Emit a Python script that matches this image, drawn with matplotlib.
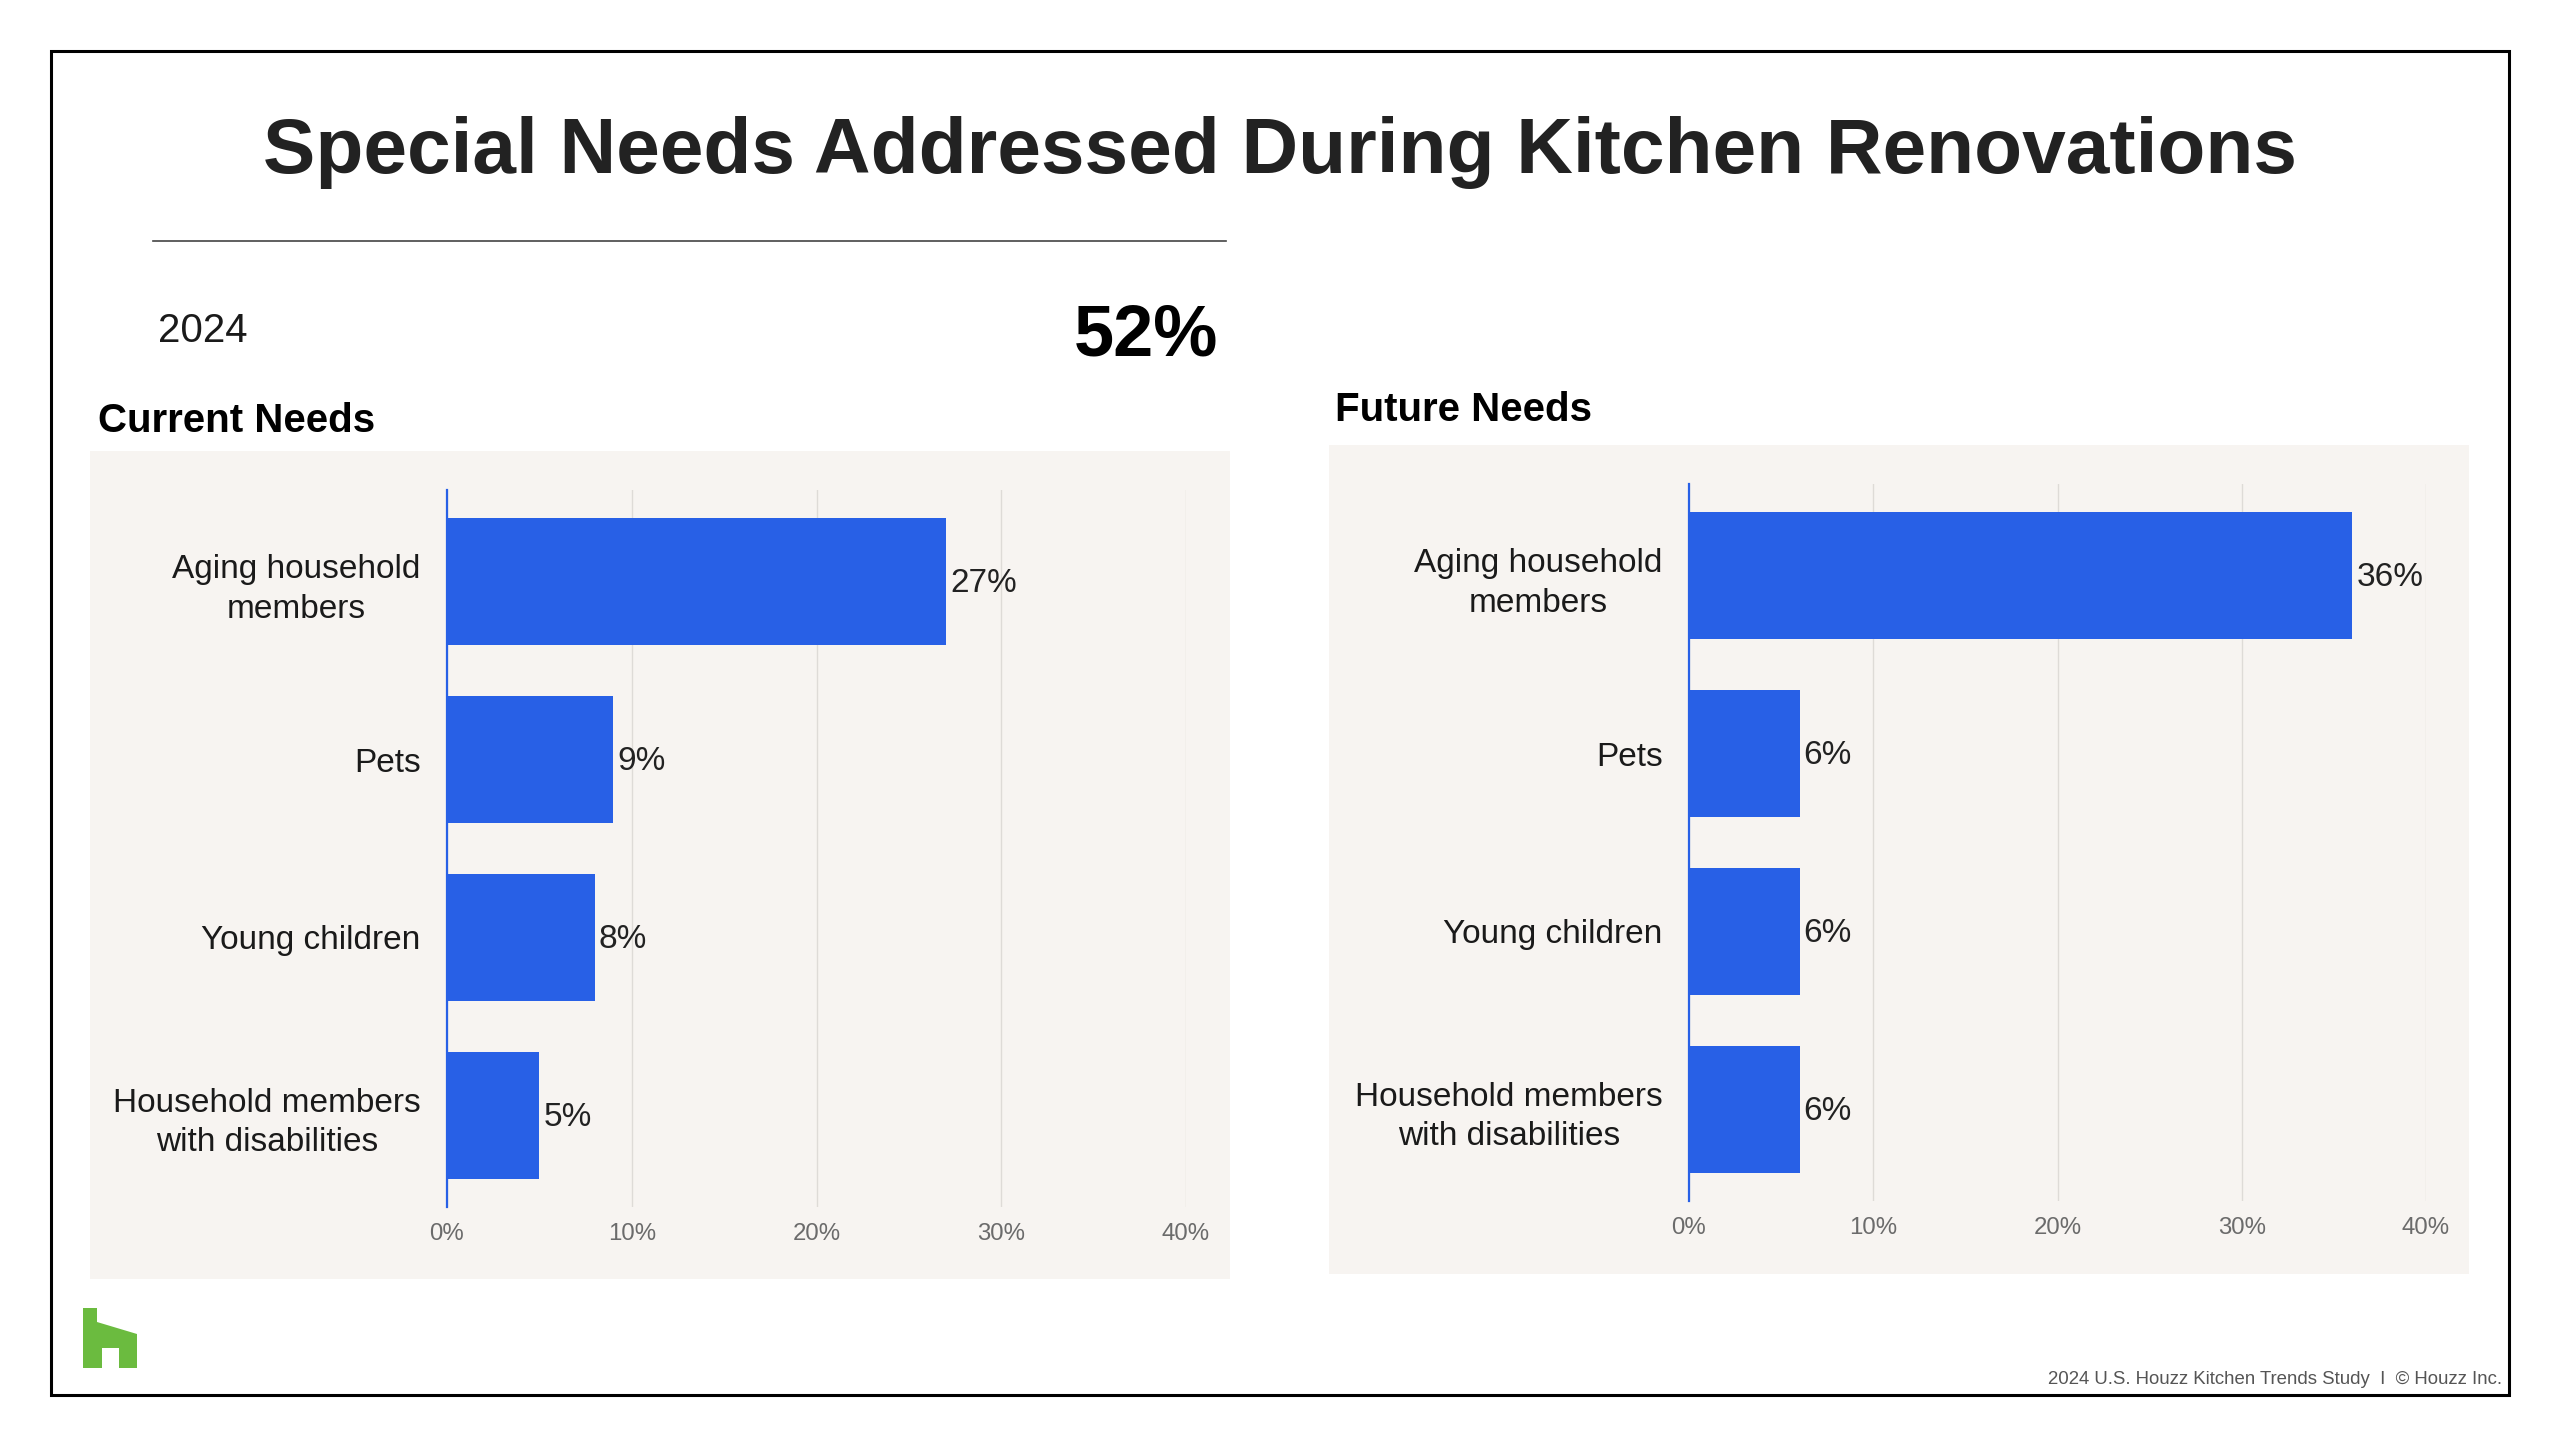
import matplotlib
matplotlib.use('Agg')
import matplotlib.pyplot as plt
from matplotlib.patches import Rectangle, Polygon
from matplotlib.lines import Line2D
import numpy as np

# ---------------- data ----------------
categories = ["Aging household\nmembers", "Pets", "Young children",
              "Household members\nwith disabilities"]
current_values = [27, 9, 8, 5]
future_values = [36, 6, 6, 6]
x_ticks = [0, 10, 20, 30, 40]
x_tick_labels = ["0%", "10%", "20%", "30%", "40%"]

title = "Special Needs Addressed During Kitchen Renovations"
year_label = "2024"
headline_value = "52%"
left_title = "Current Needs"
right_title = "Future Needs"
footer = "2024 U.S. Houzz Kitchen Trends Study  I  \u00a9 Houzz Inc."

# ---------------- style ----------------
plt.rcParams['font.family'] = ['Liberation Sans', 'DejaVu Sans']
BLUE = '#2860E6'
PANEL = '#F7F4F1'
GRID = '#DEDBD7'
TEXT = '#1A1A1A'

W, H = 2560, 1446
fig = plt.figure(figsize=(W / 100, H / 100), dpi=100)
fig.patch.set_facecolor('white')


def fx(px):
    return px / W


def fy(py):
    return 1 - py / H


# outer frame
fig.patches.append(Rectangle((fx(51), fy(1395)), fx(2509) - fx(51), fy(51) - fy(1395),
                             transform=fig.transFigure, fill=False,
                             edgecolor='black', lw=2.2, zorder=-1))
# panel backgrounds
fig.patches.append(Rectangle((fx(90), fy(1279)), fx(1230) - fx(90), fy(451) - fy(1279),
                             transform=fig.transFigure, facecolor=PANEL,
                             edgecolor='none', zorder=-1))
fig.patches.append(Rectangle((fx(1329), fy(1274)), fx(2469) - fx(1329), fy(445) - fy(1274),
                             transform=fig.transFigure, facecolor=PANEL,
                             edgecolor='none', zorder=-1))

# title & header texts
fig.text(0.5, fy(173), title, ha='center', va='baseline', fontsize=56.5,
         fontweight='bold', color='#222222')
fig.add_artist(Line2D([fx(153), fx(1226)], [fy(241), fy(241)],
                      transform=fig.transFigure, color='#444444', lw=1.2))
fig.text(fx(158), fy(342), year_label, ha='left', va='baseline', fontsize=29, color=TEXT)
fig.text(fx(1218), fy(355), headline_value, ha='right', va='baseline', fontsize=52,
         fontweight='bold', color='black')
fig.text(fx(98), fy(432), left_title, ha='left', va='baseline', fontsize=29,
         fontweight='bold', color='black')
fig.text(fx(1335), fy(421), right_title, ha='left', va='baseline', fontsize=29,
         fontweight='bold', color='black')


def draw(ax, values):
    y = np.arange(len(categories))
    ax.set_zorder(3)
    ax.barh(y, values, height=0.713, color=BLUE, zorder=3)
    ax.set_xlim(0, 40)
    ax.set_ylim(len(categories) - 0.485, -0.515)
    ax.set_facecolor('none')
    for i, v in enumerate(values):
        ax.annotate(f"{v}%", (v, i), xytext=(3, -1.5), textcoords='offset points',
                    ha='left', va='center', fontsize=24, color='#222222', zorder=4)
    ax.set_yticks(y, categories)
    for lab in ax.get_yticklabels():
        lab.set_multialignment('center')
        lab.set_linespacing(1.35)
    ax.tick_params(axis='y', length=0, pad=19, labelsize=24, labelcolor=TEXT)
    ax.set_xticks(x_ticks, x_tick_labels)
    ax.tick_params(axis='x', length=0, pad=11.5, labelsize=17.3, labelcolor='#6B6B6B')
    ax.grid(axis='x', color=GRID, lw=1.0, zorder=0)
    ax.set_axisbelow(True)
    for s in ['top', 'right', 'bottom']:
        ax.spines[s].set_visible(False)
    ax.spines['left'].set_color(BLUE)
    ax.spines['left'].set_linewidth(1.6)
    ax.spines['left'].set_zorder(5)


ax1 = fig.add_axes([fx(447), fy(1207), (1186 - 447) / W, (1207 - 490) / H])
draw(ax1, current_values)
ax2 = fig.add_axes([fx(1689), fy(1201), (2426 - 1689) / W, (1201 - 484) / H])
draw(ax2, future_values)

# Houzz logo
logo_px = [(83, 1308), (97, 1308), (97, 1322), (137, 1334), (137, 1368),
           (119, 1368), (119, 1348), (102, 1348), (102, 1368), (83, 1368)]
fig.patches.append(Polygon([(fx(a), fy(b)) for a, b in logo_px], closed=True,
                           transform=fig.transFigure, facecolor='#6BBB3F',
                           edgecolor='none', zorder=1))

# footer
fig.text(fx(2502), fy(1384), footer, ha='right', va='baseline', fontsize=13.4,
         color='#555555')

fig.savefig('out.png', dpi=100)
